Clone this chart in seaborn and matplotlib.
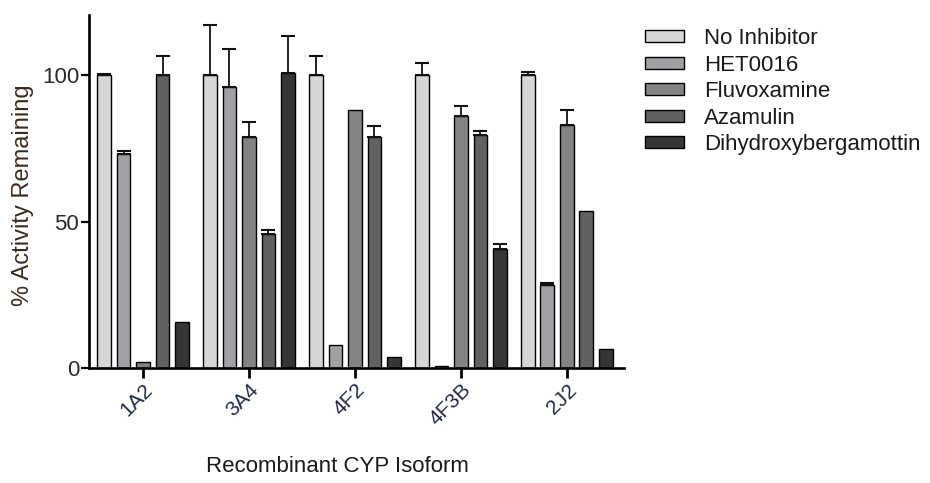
import matplotlib
matplotlib.use("Agg")
import matplotlib.pyplot as plt
import seaborn as sns
import pandas as pd
import numpy as np

isoforms = ["1A2", "3A4", "4F2", "4F3B", "2J2"]
treatments = ["No Inhibitor", "HET0016", "Fluvoxamine", "Azamulin", "Dihydroxybergamottin"]

no_inhibitor = [100.0, 100.0, 100.0, 100.0, 100.0]
het0016 = [73.0, 96.0, 7.8, 0.7, 28.3]
fluvoxamine = [2.0, 78.8, 88.0, 86.1, 82.8]
azamulin = [100.0, 45.7, 78.8, 79.5, 53.6]
dhb = [15.8, 100.8, 3.9, 40.5, 6.5]

err_no_inhibitor = [0.5, 17.0, 6.6, 4.1, 1.2]
err_het0016 = [1.1, 13.0, 0.0, 0.0, 0.7]
err_fluvoxamine = [0.0, 5.3, 0.0, 3.3, 5.2]
err_azamulin = [6.6, 1.4, 3.9, 1.3, 0.0]
err_dhb = [0.0, 12.6, 0.0, 1.7, 0.0]

colors = ["#d6d6d6", "#a1a1a5", "#838383", "#616161", "#363636"]

values = [no_inhibitor, het0016, fluvoxamine, azamulin, dhb]
errors = [err_no_inhibitor, err_het0016, err_fluvoxamine, err_azamulin, err_dhb]

rows = []
for t, vals in zip(treatments, values):
    for iso, v in zip(isoforms, vals):
        rows.append({"Isoform": iso, "Treatment": t, "Activity": v})
df = pd.DataFrame(rows)

sns.set_style("ticks")
plt.rcParams["font.family"] = ["Liberation Sans", "DejaVu Sans"]

fig = plt.figure(figsize=(9.3, 4.83), dpi=100)
ax = fig.add_axes([89 / 930, 1 - 368 / 483, 535 / 930, 353 / 483])

sns.barplot(data=df, x="Isoform", y="Activity", hue="Treatment",
            order=isoforms, hue_order=treatments, palette=colors,
            width=0.92, gap=0.3, edgecolor="black", linewidth=1.0,
            errorbar=None, legend=False, saturation=1, ax=ax)

for cont, errs in zip(ax.containers, errors):
    xs = [b.get_x() + b.get_width() / 2 for b in cont]
    hs = [b.get_height() for b in cont]
    upper = np.array(errs)
    mask = upper > 0
    ax.errorbar(np.array(xs)[mask], np.array(hs)[mask],
                yerr=[np.zeros(mask.sum()), upper[mask]],
                fmt="none", ecolor="#111111", elinewidth=1.3,
                capsize=5, capthick=1.5, zorder=1)

ax.set_xlim(-0.51, 4.54)
ax.set_ylim(0, 120.5)
ax.set_yticks([0, 50, 100])
sns.despine(ax=ax)
for s in ["left", "bottom"]:
    ax.spines[s].set_linewidth(1.9)
    ax.spines[s].set_color("black")
ax.tick_params(axis="y", length=6, width=1.6, labelsize=16, pad=1,
               color="black", labelcolor="#2a2a2a")
ax.tick_params(axis="x", length=7, width=2.0, labelsize=15, pad=2,
               color="black", labelcolor="#1f2a48")
for lbl in ax.get_xticklabels():
    lbl.set_rotation(45)
    lbl.set_ha("right")
    lbl.set_rotation_mode("anchor")

ax.set_xlabel("Recombinant CYP Isoform", fontsize=16, color="#1a1a1a",
              va="center", ha="center")
ax.xaxis.set_label_coords((337 - 89) / 535, (368 - 466) / 353)
ax.set_ylabel("% Activity Remaining", fontsize=17, color="#3a2b1c",
              va="center", ha="center")
ax.yaxis.set_label_coords((23 - 89) / 535, (368 - 195) / 353)

handles = list(ax.containers)
leg = fig.legend(handles, treatments, loc="upper left",
                 bbox_to_anchor=(645 / 930, 1 - 28 / 483), frameon=False,
                 fontsize=16, handlelength=1.75, handleheight=0.45,
                 handletextpad=0.9, labelspacing=0.25, borderpad=0, borderaxespad=0)
for t in leg.get_texts():
    t.set_color("#1a1a1a")

fig.savefig("out.png", dpi=100)
